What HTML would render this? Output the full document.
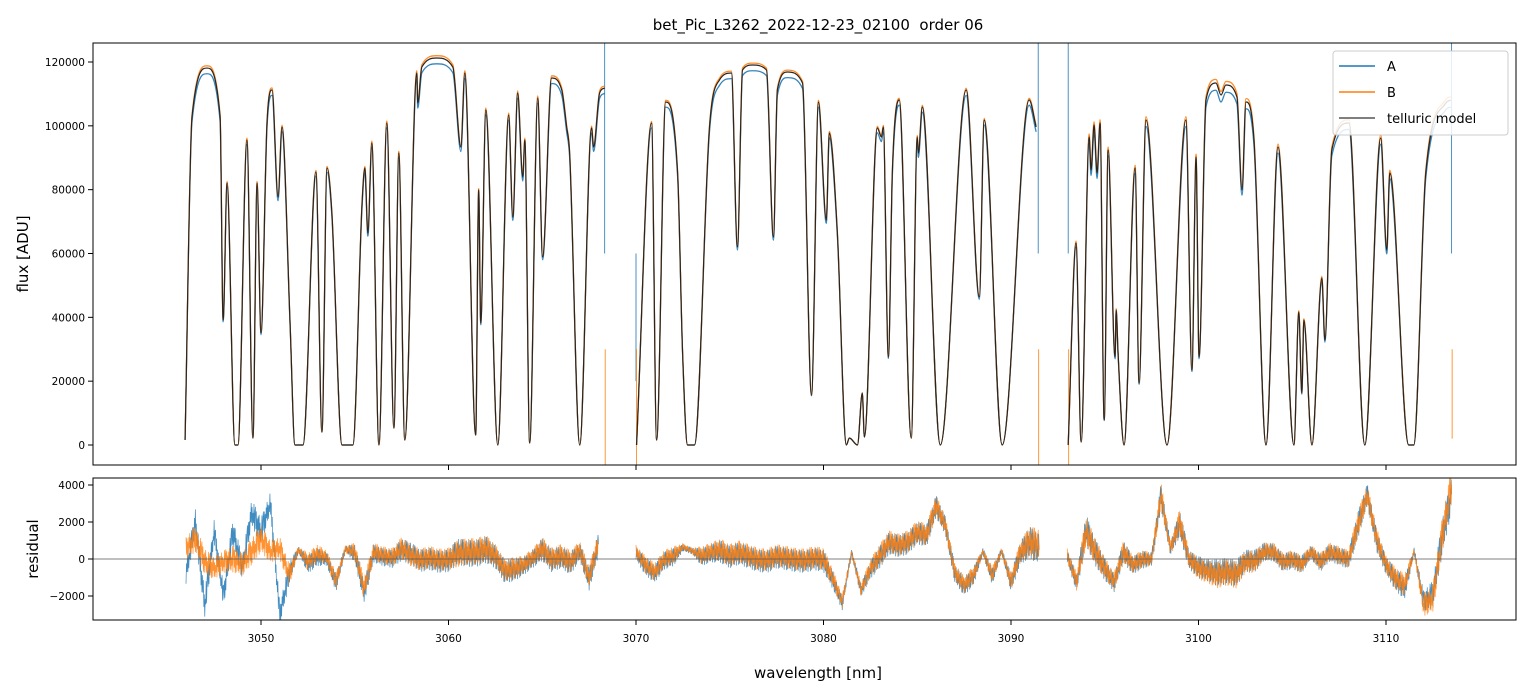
<!DOCTYPE html>
<html><head><meta charset="utf-8"><title>bet_Pic order 06</title>
<style>
html,body{margin:0;padding:0;background:#fff;}
svg{display:block;font-family:"DejaVu Sans","Liberation Sans",sans-serif;}
</style></head>
<body>
<svg id="chart" width="1531" height="696" viewBox="0 0 1531 696" xmlns="http://www.w3.org/2000/svg">
<defs>
<clipPath id="clipTop"><rect x="93" y="43" width="1423" height="422"/></clipPath>
<clipPath id="clipBot"><rect x="93" y="478" width="1423" height="142"/></clipPath>
</defs>
<rect x="0" y="0" width="1531" height="696" fill="#fff"/>
<text x="818" y="30" font-size="15" text-anchor="middle" fill="#000">bet_Pic_L3262_2022-12-23_02100&#160; order 06</text>
<g id="topSeries" clip-path="url(#clipTop)"></g>
<g id="botSeries" clip-path="url(#clipBot)"></g>
<rect x="93" y="43" width="1423" height="422" fill="none" stroke="#000" stroke-width="1"/>
<rect x="93" y="478" width="1423" height="142" fill="none" stroke="#000" stroke-width="1"/>
<g id="axes"></g>
<text x="28" y="254" font-size="15" text-anchor="middle" transform="rotate(-90 28 254)">flux [ADU]</text>
<text x="38" y="549" font-size="15" text-anchor="middle" transform="rotate(-90 38 549)">residual</text>
<text x="818" y="678" font-size="15" text-anchor="middle">wavelength [nm]</text>
<g>
<rect x="1333" y="51" width="175" height="84" rx="3" fill="#fff" fill-opacity="0.85" stroke="#ccc" stroke-width="1"/>
<line x1="1339" y1="66" x2="1375" y2="66" stroke="#1f77b4" stroke-width="1.5"/>
<text x="1387" y="71" font-size="13">A</text>
<line x1="1339" y1="92" x2="1375" y2="92" stroke="#ff7f0e" stroke-width="1.5"/>
<text x="1387" y="97" font-size="13">B</text>
<line x1="1339" y1="118" x2="1375" y2="118" stroke="#555" stroke-width="1.5"/>
<text x="1387" y="123" font-size="13">telluric model</text>
</g>
</svg>
<script>
const seg1Wl = [3045.95,3046.32,3047.12,3047.82,3047.98,3048.19,3048.61,3048.77,3049.25,3049.57,3049.79,3050.00,3050.32,3050.59,3050.91,3051.12,3051.55,3051.81,3052.24,3052.93,3053.25,3053.52,3053.78,3054.32,3054.90,3055.38,3055.54,3055.70,3055.91,3056.29,3056.71,3057.09,3057.35,3057.67,3058.31,3058.36,3058.58,3059.38,3060.23,3060.66,3060.87,3061.45,3061.61,3061.72,3061.99,3062.63,3063.21,3063.43,3063.69,3063.96,3064.07,3064.33,3064.76,3065.02,3065.50,3066.04,3066.30,3066.46,3067.00,3067.63,3067.74,3068.06,3068.33];
const seg1Flux = [1600,102800,118100,102800,39160,82085,0,0,95557,2190,82085,35090,100883,111222,77698,99630,38222,0,0,85530,4073,86784,72686,0,0,74565,86784,66420,94617,0,100883,5326,91484,1567,116548,107149,118427,121247,118427,93363,116548,3133,79892,38222,104956,0,103389,71432,110282,83964,95557,627,108715,58900,114981,111222,99630,91484,0,99316,93363,110282,111848];
const seg2Wl = [3070.03,3070.83,3071.10,3071.58,3072.22,3072.48,3072.75,3073.12,3073.92,3074.45,3075.09,3075.41,3075.68,3076.21,3076.96,3077.33,3077.54,3078.08,3078.88,3079.36,3079.73,3080.15,3080.31,3080.74,3081.22,3081.38,3081.81,3082.07,3082.18,3082.87,3083.09,3083.19,3083.46,3083.67,3084.04,3084.68,3085.00,3085.06,3085.27,3086.23,3087.61,3088.31,3088.57,3089.53,3090.97,3091.34];
const seg2Flux = [0,100883,1567,107462,85218,29764,0,0,99630,114355,116548,62033,117488,119054,117488,65166,111222,116861,113415,15665,107462,70493,97750,66420,0,2190,0,16292,2506,99316,96496,99630,27570,85218,108089,2190,96496,91484,105895,0,111222,46368,101823,0,108089,99630];
const seg3Wl = [3093.05,3093.47,3093.74,3094.17,3094.27,3094.43,3094.59,3094.75,3094.97,3095.18,3095.55,3095.61,3095.71,3096.03,3096.62,3096.83,3097.20,3098.32,3099.33,3099.65,3099.87,3100.03,3100.40,3100.93,3101.20,3101.46,3102.05,3102.32,3102.53,3102.96,3103.60,3104.24,3105.09,3105.35,3105.51,3105.62,3106.05,3106.58,3106.74,3107.11,3108.02,3108.87,3109.72,3110.04,3110.20,3111.21,3111.48,3112.12,3113.19,3113.45];
const seg3Flux = [0,63287,940,96496,86158,100256,85218,100883,7833,92424,27570,42296,28824,0,86784,19425,101823,0,101823,23498,90230,27570,108089,113415,109655,112788,109028,79892,107462,95557,0,93363,0,41669,16292,39162,0,52321,32897,92424,100883,0,96183,61094,85218,0,0,85218,107149,108089];
const scaleA = [0.985, 0.985, 0.98];
const scaleB = [1.006, 1.005, 1.01];
const spikeWl = [3068.33, 3070.0, 3091.45, 3093.05, 3113.5];
const spikeA = [130000, 20000, 130000, 130000, 130000];
const spikeB = [-8000, -8000, -8000, -8000, 2000];

const resStart = [3046.0, 3070.0, 3093.0];
const resStep = 0.5;
const resB1 = [576,1100,-150,-500,-150,0,-300,400,1100,400,600,-860,500,-150,300,100,-1200,540,400,-1600,400,200,100,580,200,-50,100,-50,0,300,400,400,580,200,-600,-500,-300,100,580,0,200,-150,500,-1000,940];
const resA1 = [-800,2000,-2500,1500,-2000,1500,-500,2500,1500,3000,-3000,-800,500,-300,100,0,-1300,540,300,-1800,300,100,0,500,300,-100,0,-150,-100,400,300,300,500,100,-700,-600,-400,0,500,-100,100,-250,400,-1100,800];
const noise1 = [500,600,600,500,500,600,500,600,600,500,500,500,150,400,400,300,400,150,400,500,400,400,400,500,500,500,500,500,500,600,600,600,600,500,500,500,400,400,500,500,500,500,400,500,500];
const resB2 = [400,-300,-700,0,200,670,430,200,400,500,200,400,200,0,-50,200,100,0,-50,100,0,-1040,-2300,360,-1670,-500,200,940,760,940,1480,1300,2900,1840,-700,-1400,-860,400,-860,430,-1220,400,940,760];
const resA2 = [300,-400,-800,-100,100,600,430,100,300,400,100,300,100,-100,-150,100,0,-100,-150,0,-100,-1150,-2400,360,-1700,-600,100,850,700,850,1400,1250,2850,1800,-800,-1500,-950,400,-950,430,-1300,300,900,500];
const noise2 = [300,400,400,400,400,150,150,400,400,500,500,500,500,500,500,500,500,500,500,500,500,400,300,150,300,400,500,500,500,500,500,500,500,400,400,400,400,150,400,150,400,500,700,700];
const resB3 = [200,-1220,1480,400,-500,-1220,400,-300,0,0,3460,580,2000,0,-500,-700,-860,-700,-860,-150,-150,400,400,-150,0,-300,400,-150,400,200,0,1840,3460,1100,-300,-1040,-1400,430,-2500,-2120,1300,4000];
const resA3 = [150,-1300,1600,350,-550,-1300,400,-350,-50,0,3400,560,1900,-50,-450,-600,-750,-650,-800,-100,-100,400,350,-200,-50,-300,350,-200,350,150,-50,1800,3500,1000,-350,-1100,-1600,430,-2300,-1900,1200,3500];
const noise3 = [300,400,700,600,500,400,500,400,400,300,600,300,600,400,500,500,600,600,600,500,500,400,400,400,400,400,300,400,400,400,400,600,500,500,400,500,500,150,500,600,800,800];

const xTicks = [3050,3060,3070,3080,3090,3100,3110];
const yTicksTop = [0,20000,40000,60000,80000,100000,120000];
const yTicksBot = [-2000,0,2000,4000];

const X0 = 3050, XPX0 = 261, PXPERNM = 18.75;
function xS(w){ return XPX0 + (w - X0) * PXPERNM; }
function yT(v){ return 445 - v * 383 / 120000; }
function yB(v){ return 559 - v * 37 / 2000; }

const NS = 'http://www.w3.org/2000/svg';
function mk(tag, attrs, parent){
  const e = document.createElementNS(NS, tag);
  for (const k in attrs) e.setAttribute(k, attrs[k]);
  parent.appendChild(e);
  return e;
}

function monoPath(px, py){
  const n = px.length;
  if (n < 2) return '';
  const d = [], m = new Array(n);
  for (let i = 0; i < n - 1; i++) d.push((py[i+1]-py[i]) / Math.max(px[i+1]-px[i], 1e-6));
  m[0] = d[0]; m[n-1] = d[n-2];
  for (let i = 1; i < n - 1; i++) m[i] = (d[i-1]*d[i] <= 0) ? 0 : (d[i-1]+d[i]) / 2;
  for (let i = 0; i < n - 1; i++){
    if (d[i] === 0){ m[i] = 0; m[i+1] = 0; continue; }
    const a = m[i]/d[i], b = m[i+1]/d[i], s = a*a + b*b;
    if (s > 9){ const t = 3/Math.sqrt(s); m[i] = t*a*d[i]; m[i+1] = t*b*d[i]; }
  }
  let p = 'M' + px[0].toFixed(2) + ',' + py[0].toFixed(2);
  for (let i = 0; i < n - 1; i++){
    const h = px[i+1] - px[i];
    p += 'C' + (px[i]+h/3).toFixed(2) + ',' + (py[i]+m[i]*h/3).toFixed(2) + ' ' +
         (px[i+1]-h/3).toFixed(2) + ',' + (py[i+1]-m[i+1]*h/3).toFixed(2) + ' ' +
         px[i+1].toFixed(2) + ',' + py[i+1].toFixed(2);
  }
  return p;
}

const topG = document.getElementById('topSeries');
const botG = document.getElementById('botSeries');
const axesG = document.getElementById('axes');
const segWl = [seg1Wl, seg2Wl, seg3Wl];
const segFlux = [seg1Flux, seg2Flux, seg3Flux];

spikeWl.forEach(function(w, i){
  const la = mk('line', {x1: xS(w), x2: xS(w), y1: yT(60000), y2: yT(spikeA[i]), stroke: '#1f77b4', 'stroke-width': 0.8}, topG);
  
  
  const lb = mk('line', {x1: xS(w)+0.5, x2: xS(w)+0.5, y1: yT(30000), y2: yT(spikeB[i]), stroke: '#ff7f0e', 'stroke-width': 0.8}, topG);
  
  
});

[['a', scaleA, '#1f77b4', 1.3], ['b', scaleB, '#ff7f0e', 1.3]].forEach(function(cfg){
  for (let s = 0; s < 3; s++){
    const px = segWl[s].map(xS);
    const py = segFlux[s].map(function(v){ return yT(v * cfg[1][s]); });
    const p = mk('path', {d: monoPath(px, py), fill: 'none', stroke: cfg[2], 'stroke-width': cfg[3], 'stroke-opacity': 0.9}, topG);
    
    
  }
});
for (let s = 0; s < 3; s++){
  const px = segWl[s].map(xS);
  const py = segFlux[s].map(yT);
  const p = mk('path', {d: monoPath(px, py), fill: 'none', stroke: '#2a2420', 'stroke-width': 1.2}, topG);
  
  
}

const pattern = [1,-0.6,0.8,-1,0.4,-0.9,0.7,-0.3,0.95,-0.75,0.5,-0.85,0.2,-0.5,1,-1,0.6];
function hairy(vals, amps, start, phase){
  let p = '';
  const sub = 20;
  for (let i = 0; i < vals.length - 1; i++){
    for (let k = 0; k < sub; k++){
      const t = k / sub;
      const w = start + (i + t) * resStep;
      const v = vals[i] + (vals[i+1]-vals[i]) * t;
      const a = 1.2 * (amps[i] + (amps[i+1]-amps[i]) * t);
      const y = v + a * pattern[(i*sub + k + phase) % pattern.length];
      p += (p ? 'L' : 'M') + xS(w).toFixed(2) + ',' + yB(y).toFixed(2);
    }
  }
  const last = vals.length - 1;
  p += 'L' + xS(start + last*resStep).toFixed(2) + ',' + yB(vals[last]).toFixed(2);
  return p;
}
const resA = [resA1, resA2, resA3], resB = [resB1, resB2, resB3], noise = [noise1, noise2, noise3];
for (let s = 0; s < 3; s++){
  const pa = mk('path', {d: hairy(resA[s], noise[s], resStart[s], 5), fill: 'none', stroke: '#1f77b4', 'stroke-width': 0.7, 'stroke-opacity': 0.85}, botG);
  
  
}
for (let s = 0; s < 3; s++){
  const pb = mk('path', {d: hairy(resB[s], noise[s], resStart[s], 0), fill: 'none', stroke: '#ff7f0e', 'stroke-width': 0.7, 'stroke-opacity': 0.85}, botG);
  
  
}
const zl = mk('line', {x1: 93, x2: 1516, y1: yB(0), y2: yB(0), stroke: '#555', 'stroke-width': 0.8}, botG);



xTicks.forEach(function(t){
  const x = xS(t);
  const a = mk('line', {x1: x, x2: x, y1: 465, y2: 470, stroke: '#000', 'stroke-width': 1}, axesG);
  
  
  const b = mk('line', {x1: x, x2: x, y1: 620, y2: 625, stroke: '#000', 'stroke-width': 1}, axesG);
  
  
  const tx = mk('text', {x: x, y: 642, 'font-size': 10.5, 'text-anchor': 'middle'}, axesG);
  tx.textContent = String(t);
  
  
});
yTicksTop.forEach(function(t){
  const y = yT(t);
  const a = mk('line', {x1: 88, x2: 93, y1: y, y2: y, stroke: '#000', 'stroke-width': 1}, axesG);
  
  
  const tx = mk('text', {x: 85, y: y + 4, 'font-size': 10.5, 'text-anchor': 'end'}, axesG);
  tx.textContent = String(t);
  
  
});
yTicksBot.forEach(function(t){
  const y = yB(t);
  const a = mk('line', {x1: 88, x2: 93, y1: y, y2: y, stroke: '#000', 'stroke-width': 1}, axesG);
  
  
  const tx = mk('text', {x: 85, y: y + 4, 'font-size': 10.5, 'text-anchor': 'end'}, axesG);
  tx.textContent = (t < 0 ? '\u2212' + Math.abs(t) : String(t));
  
  
});
</script>
</body></html>
